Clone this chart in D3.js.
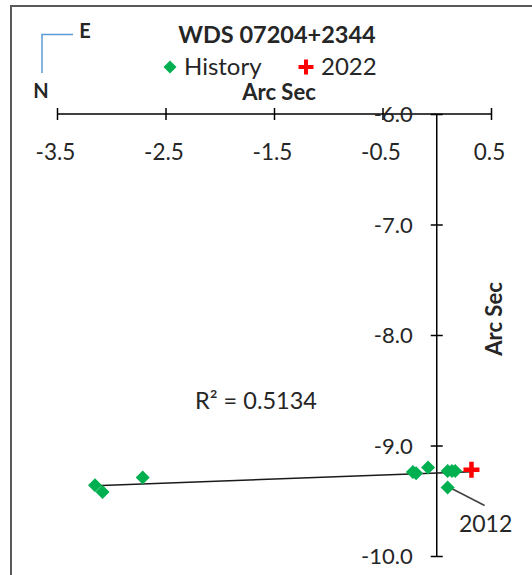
<!DOCTYPE html>
<html>
<head>
<meta charset="utf-8">
<script src="https://cdn.jsdelivr.net/npm/d3@7"></script>
<style>
  body { margin: 0; background: #fff; }
  text { font-family: Lato, "Open Sans", sans-serif; fill: #262626; }
</style>
</head>
<body>
<div id="chart"></div>
<script>
// data (arc seconds)
var historyX = [-3.15, -3.08, -2.71, -0.22, -0.19, -0.08, 0.10, 0.14, 0.17, 0.10];
var historyY = [-9.36, -9.42, -9.29, -9.24, -9.25, -9.20, -9.23, -9.23, -9.23, -9.38];
var obs2022X = [0.32];
var obs2022Y = [-9.22];
var xTicks = [-3.5, -2.5, -1.5, -0.5, 0.5];
var yTicks = [-6.0, -7.0, -8.0, -9.0, -10.0];
var note2012 = {x: 0.10, y: -9.38, label: "2012"};
var rSquared = "R\u00B2 = 0.5134";
var title = "WDS 07204+2344";

var W = 532, H = 575;

var svg = d3.select("#chart")
  .append("svg")
    .attr("width", W)
    .attr("height", H);

svg.append("rect")
  .attr("width", W).attr("height", H)
  .attr("fill", "#fff");

// chart border (runs off the right and bottom edges)
svg.append("rect")
  .attr("x", 11).attr("y", 6)
  .attr("width", 600).attr("height", 600)
  .attr("fill", "none")
  .attr("stroke", "#595959")
  .attr("stroke-width", 2);

var x = d3.scaleLinear().domain([-3.5, 0.5]).range([57, 491]);
var y = d3.scaleLinear().domain([-10, -6]).range([556, 114]);
var fmt = function(d) { return d3.format(".1f")(d).replace("\u2212", "-"); };

// x axis sits at y = -6, y axis at x = 0
var xAxis = svg.append("g")
  .attr("transform", "translate(0," + y(-6) + ")")
  .call(d3.axisBottom(x).tickValues(xTicks).tickSizeOuter(0));
xAxis.select(".domain").attr("stroke", "#000").attr("stroke-width", 1.5)
  .attr("d", "M" + x(-3.5) + ",0H" + x(0.5));
xAxis.selectAll(".tick line").attr("y1", -6).attr("y2", 6).attr("stroke", "#000").attr("stroke-width", 1.5);
xAxis.selectAll(".tick text")
  .attr("x", -2).attr("y", 46).attr("dy", null)
  .style("font-size", "22.5px").style("font-family", "Lato, sans-serif").attr("fill", "#262626")
  .text(fmt);

var yAxis = svg.append("g")
  .attr("transform", "translate(" + x(0) + ",0)")
  .call(d3.axisLeft(y).tickValues(yTicks).tickSizeOuter(0));
yAxis.select(".domain").attr("stroke", "#000").attr("stroke-width", 1.5)
  .attr("d", "M0," + y(-6) + "V" + y(-10));
yAxis.selectAll(".tick line").attr("x1", -6).attr("x2", 6).attr("stroke", "#000").attr("stroke-width", 1.5);
yAxis.selectAll(".tick text")
  .attr("x", -24).attr("dy", "0.35em")
  .style("font-size", "22px").style("font-family", "Lato, sans-serif").attr("fill", "#262626")
  .text(fmt);

// trendline (least squares over all points)
var allX = historyX.concat(obs2022X), allY = historyY.concat(obs2022Y);
var mx = d3.mean(allX), my = d3.mean(allY);
var slope = d3.sum(allX, function(v, i) { return (v - mx) * (allY[i] - my); }) /
            d3.sum(allX, function(v) { return (v - mx) * (v - mx); });
var icpt = my - slope * mx;
var xr = d3.extent(allX);
svg.append("line")
  .attr("x1", x(xr[0])).attr("y1", y(icpt + slope * xr[0]))
  .attr("x2", x(xr[1])).attr("y2", y(icpt + slope * xr[1]))
  .attr("stroke", "#1a1a1a").attr("stroke-width", 1.5);

// 2012 leader
svg.append("line")
  .attr("x1", x(note2012.x) + 4).attr("y1", y(note2012.y) + 1)
  .attr("x2", x(note2012.x) + 37).attr("y2", y(note2012.y) + 18)
  .attr("stroke", "#404040").attr("stroke-width", 1.5);
svg.append("text")
  .attr("x", x(note2012.x) + 38).attr("y", y(note2012.y) + 45)
  .attr("text-anchor", "middle")
  .style("font-size", "23px")
  .text(note2012.label);

var diamond = function(r) { return "M0," + (-r) + "L" + r + ",0L0," + r + "L" + (-r) + ",0Z"; };

svg.append("g").selectAll("path")
  .data(historyX)
  .enter().append("path")
    .attr("d", diamond(7))
    .attr("transform", function(d, i) { return "translate(" + x(d) + "," + y(historyY[i]) + ")"; })
    .attr("fill", "#00b050");

var plus = function(r) { return "M" + (-r) + ",0H" + r + "M0," + (-r) + "V" + r; };
svg.append("g").selectAll("path")
  .data(obs2022X)
  .enter().append("path")
    .attr("d", plus(8))
    .attr("transform", function(d, i) { return "translate(" + x(d) + "," + y(obs2022Y[i]) + ")"; })
    .attr("stroke", "#ff0000").attr("stroke-width", 4.5).attr("fill", "none");

// R squared
svg.append("text")
  .attr("x", 256).attr("y", 409)
  .attr("text-anchor", "middle")
  .style("font-size", "23.5px")
  .text(rSquared);

// title and legend
svg.append("text")
  .attr("x", 277).attr("y", 43)
  .attr("text-anchor", "middle")
  .style("font-size", "23.5px").style("font-weight", "bold")
  .attr("fill", "#0d0d0d")
  .text(title);

var lg = svg.append("g");
lg.append("path").attr("d", diamond(6.5)).attr("transform", "translate(170,67)").attr("fill", "#00b050");
lg.append("text").attr("x", 184).attr("y", 75).style("font-size", "24px").text("History");
lg.append("path").attr("d", plus(7.5)).attr("transform", "translate(306,67)")
  .attr("stroke", "#ff0000").attr("stroke-width", 4).attr("fill", "none");
lg.append("text").attr("x", 321).attr("y", 75).style("font-size", "24px").text("2022");

// axis titles
svg.append("text")
  .attr("x", 279).attr("y", 100)
  .attr("text-anchor", "middle")
  .style("font-size", "22px").style("font-weight", "bold")
  .attr("fill", "#0d0d0d")
  .text("Arc Sec");
svg.append("text")
  .attr("transform", "translate(502,319) rotate(-90)")
  .attr("text-anchor", "middle")
  .style("font-size", "22px").style("font-weight", "bold")
  .attr("fill", "#0d0d0d")
  .text("Arc Sec");

// compass
svg.append("path")
  .attr("d", "M42,73V34.5H73")
  .attr("fill", "none").attr("stroke", "#5b9bd5").attr("stroke-width", 1.5);
svg.append("text").attr("x", 85).attr("y", 38).attr("text-anchor", "middle")
  .style("font-size", "20px").style("font-weight", "bold").attr("fill", "#0d0d0d").text("E");
svg.append("text").attr("x", 41).attr("y", 98).attr("text-anchor", "middle")
  .style("font-size", "20px").style("font-weight", "bold").attr("fill", "#0d0d0d").text("N");
</script>
</body>
</html>
